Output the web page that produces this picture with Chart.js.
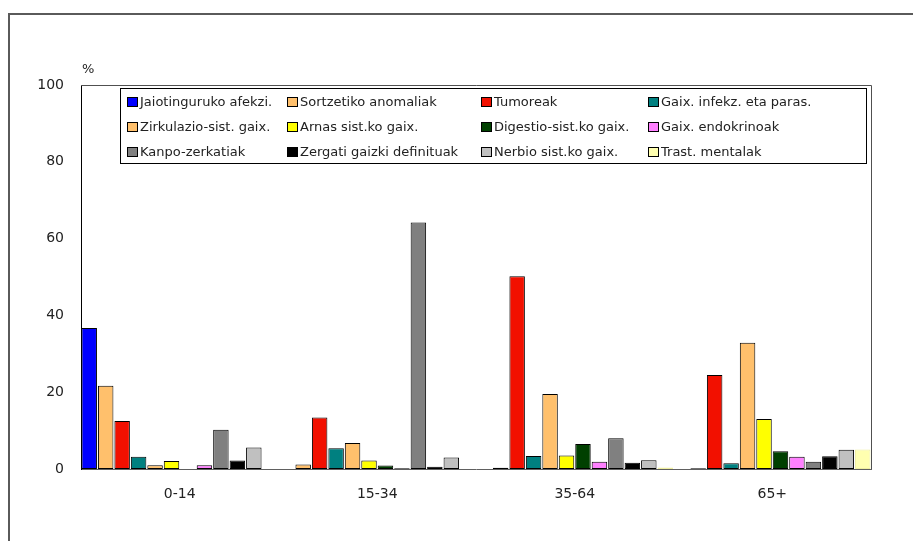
<!DOCTYPE html>
<html>
<head>
<meta charset="utf-8">
<title>Heriotza-kausak adin-taldeka</title>
<script src="https://cdn.jsdelivr.net/npm/chart.js"></script>
<style>
  html, body { margin: 0; padding: 0; background: #fff; }
  #wrap { width: 913px; height: 541px; }
</style>
</head>
<body>
<div id="wrap"><canvas id="kausak" width="913" height="541"></canvas></div>
<script>
// adin-taldeak
const categories = ['0-14', '15-34', '35-64', '65+'];
const yTicks = [0, 20, 40, 60, 80, 100];

// heriotza-kausa bakoitzaren ehunekoa adin-taldeka
const jaiotinguruko = [36.7, 0, 0, 0];
const sortzetiko = [21.7, 1.2, 0.3, 0.2];
const tumoreak = [12.5, 13.4, 50.2, 24.5];
const infekzioak = [3.2, 5.4, 3.4, 1.5];
const zirkulazio = [1.0, 6.8, 19.5, 32.9];
const arnas = [2.1, 2.2, 3.5, 13.0];
const digestio = [0, 0.9, 6.5, 4.6];
const endokrino = [1.0, 0.2, 1.9, 3.2];
const kanpo = [10.2, 64.2, 8.0, 1.9];
const zergati = [2.2, 0.6, 1.6, 3.3];
const nerbio = [5.6, 3.0, 2.3, 5.0];
const mentalak = [0, 0, 0.4, 5.1];

const seriesNames = [
    'Jaiotinguruko afekzi.', 'Sortzetiko anomaliak', 'Tumoreak', 'Gaix. infekz. eta paras.',
    'Zirkulazio-sist. gaix.', 'Arnas sist.ko gaix.', 'Digestio-sist.ko gaix.', 'Gaix. endokrinoak',
    'Kanpo-zerkatiak', 'Zergati gaizki definituak', 'Nerbio sist.ko gaix.', 'Trast. mentalak'
];
const seriesValues = [
    jaiotinguruko, sortzetiko, tumoreak, infekzioak,
    zirkulazio, arnas, digestio, endokrino,
    kanpo, zergati, nerbio, mentalak
];
const colors = [
    '#0000ff', '#ffc06c', '#f21000', '#008080',
    '#ffc06c', '#ffff00', '#004000', '#ff80ff',
    '#808080', '#000000', '#c0c0c0', '#ffffb0'
];

const FONT = '"DejaVu Sans", Verdana, sans-serif';
const TEXT = '#222';

// kanpoko markoa, grafikoaren ertza eta legenda
const frame = {
    id: 'frame',
    beforeDraw(chart) {
        const ctx = chart.ctx;
        ctx.save();
        ctx.strokeStyle = '#5a5a5a';
        ctx.lineWidth = 2;
        ctx.beginPath();
        ctx.moveTo(9, chart.height);
        ctx.lineTo(9, 14);
        ctx.lineTo(chart.width, 14);
        ctx.stroke();
        ctx.restore();
    },
    afterDraw(chart) {
        const ctx = chart.ctx;
        const a = chart.chartArea;
        ctx.save();
        // plot area top and right edge
        ctx.strokeStyle = '#505050';
        ctx.lineWidth = 1;
        ctx.beginPath();
        ctx.moveTo(a.left, a.top + 0.5);
        ctx.lineTo(a.right + 0.5, a.top + 0.5);
        ctx.lineTo(a.right + 0.5, a.bottom);
        ctx.stroke();

        // % label over the y axis
        ctx.fillStyle = TEXT;
        ctx.font = '13px ' + FONT;
        ctx.textBaseline = 'middle';
        ctx.textAlign = 'left';
        ctx.fillText('%', a.left + 1, a.top - 15);

        // legend box, 4 columns x 3 rows
        const boxL = a.left + 39, boxT = a.top + 3;
        ctx.strokeStyle = '#000';
        ctx.strokeRect(boxL + 0.5, boxT + 0.5, 746, 75);
        const colX = [46, 206, 400, 567];
        const rowY = [17, 42, 67];
        ctx.font = '13px ' + FONT;
        chart.data.datasets.forEach((ds, i) => {
            const x = a.left + colX[i % 4];
            const y = a.top + rowY[Math.floor(i / 4)];
            ctx.fillStyle = ds.backgroundColor;
            ctx.fillRect(x, y - 5, 11, 10);
            ctx.strokeStyle = '#000';
            ctx.strokeRect(x + 0.5, y - 4.5, 10, 9);
            ctx.fillStyle = TEXT;
            ctx.fillText(ds.label, x + 13, y + 0.5);
        });
        ctx.restore();
    }
};

const datasets = seriesNames.map((name, i) => ({
    label: name,
    data: seriesValues[i],
    backgroundColor: colors[i],
    borderColor: i === 11 ? '#eeeea0' : '#000',
    borderWidth: 1,
    borderSkipped: false
}));

new Chart(document.getElementById('kausak'), {
    type: 'bar',
    data: { labels: categories, datasets: datasets },
    plugins: [frame],
    options: {
        responsive: false,
        animation: false,
        layout: { padding: { left: 20, top: 85, right: 42, bottom: 0 } },
        datasets: { bar: { categoryPercentage: 1, barPercentage: 0.94 } },
        scales: {
            x: {
                grid: { display: false, drawTicks: false },
                border: { display: true, color: '#606060' },
                ticks: { padding: 17, color: TEXT, font: { family: FONT, size: 14 } },
                afterFit(s) { s.height = 72; }
            },
            y: {
                min: 0,
                max: 100,
                afterBuildTicks(s) { s.ticks = yTicks.map(v => ({ value: v })); },
                grid: { display: false, drawTicks: false },
                border: { display: true, color: '#000' },
                ticks: { padding: 17, color: TEXT, font: { family: FONT, size: 14 } },
                afterFit(s) { s.width = 61; }
            }
        },
        plugins: {
            legend: { display: false },
            tooltip: { enabled: false }
        }
    }
});
</script>
</body>
</html>
